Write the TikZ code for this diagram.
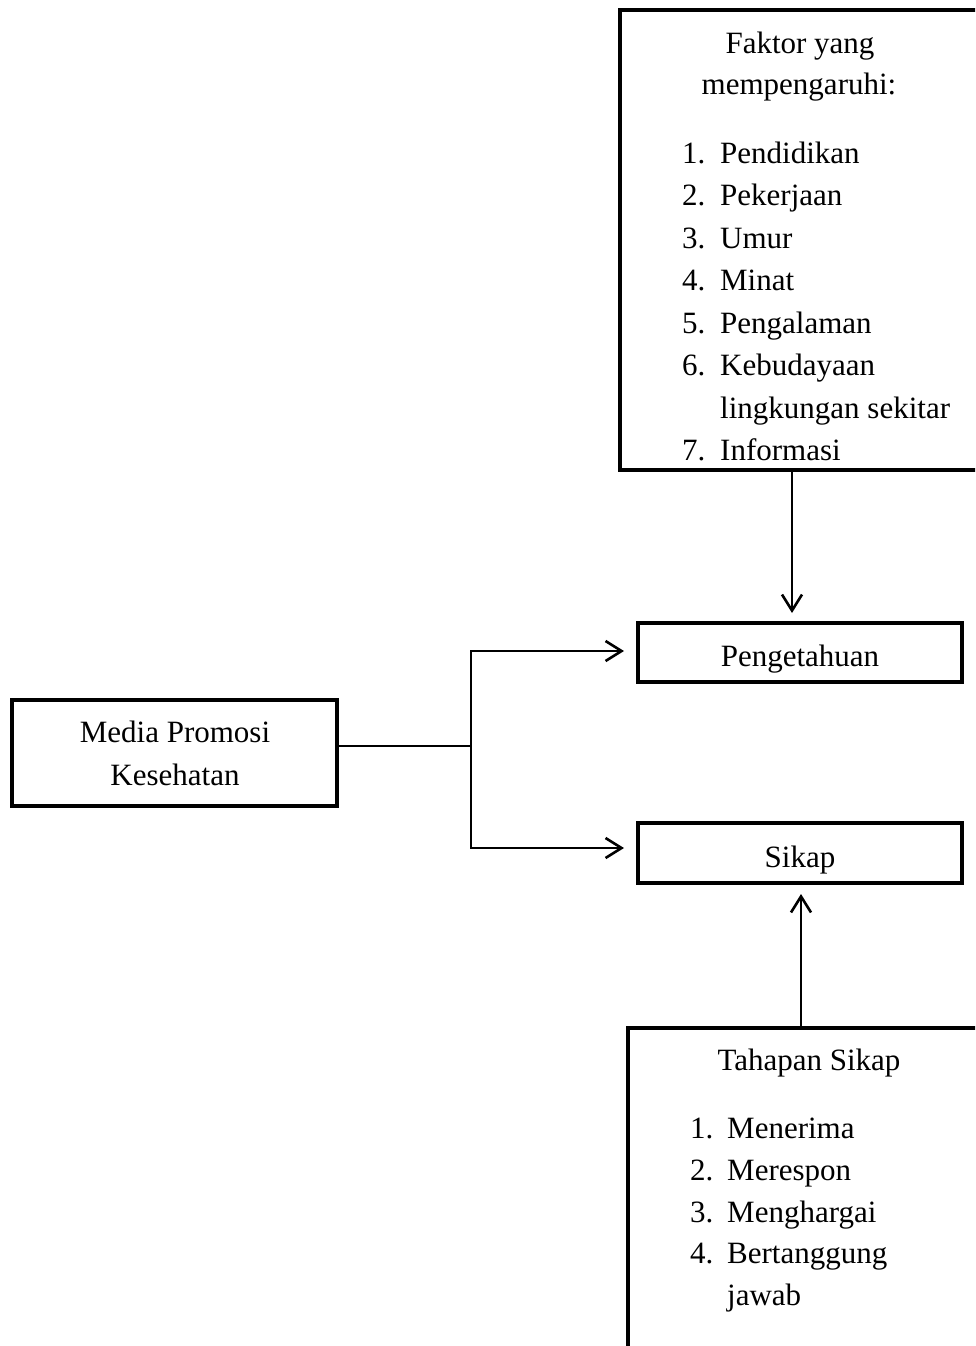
\documentclass[tikz,border=0pt]{standalone}
\usepackage{fontspec}
\setmainfont{Liberation Serif}
\usetikzlibrary{arrows.meta}
\begin{document}
\begin{tikzpicture}[x=1pt,y=-1pt,
  box/.style={draw, line width=4.5pt, rectangle, inner sep=0pt, outer sep=0pt},
  txt/.style={font=\fontsize{31}{42.5}\selectfont, inner sep=0pt},
  item/.style={txt, anchor=base west},
  conn/.style={line width=1.8pt},
  arr/.style={conn, -{Straight Barb[length=16pt,width=20pt,line width=2.6pt]}}]
\useasboundingbox (0,0) rectangle (975,1346);
\clip (0,0) rectangle (975,1346);

% boxes
\node[box, minimum width=420pt, minimum height=460pt, anchor=north west] (faktor) at (620,10) {};
\node[box, minimum width=324pt, minimum height=59pt] (peng) at (800,652.5) {};
\node[box, minimum width=324pt, minimum height=60pt] (sikap) at (800,853) {};
\node[box, minimum width=325pt, minimum height=106pt] (media) at (174.5,753) {};
\node[box, minimum width=420pt, minimum height=400pt, anchor=north west] (tahap) at (628,1028) {};

% texts of the factor box
\node[txt, anchor=base] (f1) at (800,53) {Faktor yang};
\node[txt, anchor=base] (f2) at (799,94) {mempengaruhi:};
\node[item] (fa) at (682,163) {\makebox[38pt][l]{1.}Pendidikan};
\node[item] (fb) at (682,205) {\makebox[38pt][l]{2.}Pekerjaan};
\node[item] (fc) at (682,248) {\makebox[38pt][l]{3.}Umur};
\node[item] (fd) at (682,290) {\makebox[38pt][l]{4.}Minat};
\node[item] (fe) at (682,333) {\makebox[38pt][l]{5.}Pengalaman};
\node[item] (ff) at (682,375) {\makebox[38pt][l]{6.}Kebudayaan};
\node[item] (fg) at (682,418) {\makebox[38pt][l]{}lingkungan sekitar};
\node[item] (fh) at (682,460) {\makebox[38pt][l]{7.}Informasi};

% single texts
\node[txt, anchor=base] (tp) at (800,666) {Pengetahuan};
\node[txt, anchor=base] (ts) at (800,867) {Sikap};
\node[txt, anchor=base] (m1) at (175,742) {Media Promosi};
\node[txt, anchor=base] (m2) at (175,785) {Kesehatan};

% texts of the stage box
\node[txt, anchor=base] (t0) at (809,1070) {Tahapan Sikap};
\node[item] (ta) at (690,1138) {\makebox[37pt][l]{1.}Menerima};
\node[item] (tb) at (690,1180) {\makebox[37pt][l]{2.}Merespon};
\node[item] (tc) at (690,1222) {\makebox[37pt][l]{3.}Menghargai};
\node[item] (td) at (690,1263) {\makebox[37pt][l]{4.}Bertanggung};
\node[item] (te) at (690,1305) {\makebox[37pt][l]{}jawab};

% connectors
\coordinate (tipD) at (792,613);
\coordinate (tipU) at (801,894);
\coordinate (junc) at (471,746);
\coordinate (tipP) at (624,651);
\coordinate (tipS) at (624,848);
\draw[arr] (faktor.south -| tipD) -- (tipD);
\draw[arr] (tahap.north -| tipU) -- (tipU);
\draw[conn] (media.east |- junc) -- (junc);
\draw[arr] (junc) |- (tipP);
\draw[arr] (junc) |- (tipS);
\end{tikzpicture}
\end{document}
